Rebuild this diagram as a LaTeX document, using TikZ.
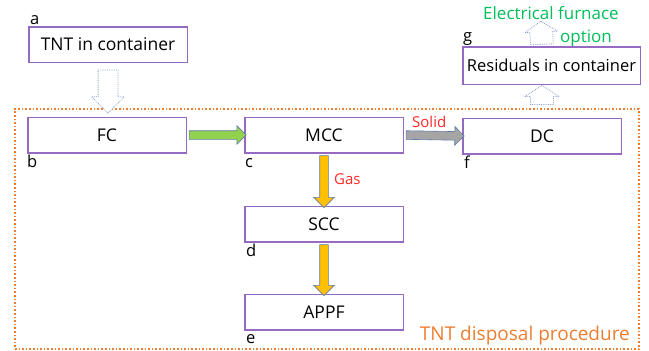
\documentclass[tikz,border=0pt]{standalone}
\usepackage{fontspec}
\setmainfont{Open Sans}
\usetikzlibrary{shapes.arrows, calc, positioning}

\definecolor{boxpurple}{RGB}{150,105,195}
\definecolor{arrowedge}{RGB}{95,125,165}
\definecolor{hollowedge}{RGB}{140,160,205}
\definecolor{gasyellow}{RGB}{255,192,0}
\definecolor{fcgreen}{RGB}{146,208,80}
\definecolor{solidgray}{RGB}{165,165,165}
\definecolor{labred}{RGB}{255,40,40}
\definecolor{optgreen}{RGB}{0,190,90}
\definecolor{procorange}{RGB}{237,125,49}

\tikzstyle{unit} = [rectangle, minimum width=158.5pt, minimum height=35.5pt, text centered, draw=boxpurple, line width=1.5pt, font=\fontsize{17.5}{20}\selectfont]
\tikzstyle{tag} = [font=\fontsize{16.5}{18}\selectfont, anchor=base west, inner sep=0pt]
\tikzstyle{note} = [font=\fontsize{15}{18}\selectfont, text=labred, anchor=base west, inner sep=0pt]
\tikzstyle{flow} = [single arrow, draw=arrowedge, line width=0.6pt, inner xsep=0pt, inner ysep=4pt, single arrow head extend=5pt, sloped, allow upside down]
\tikzstyle{hollow} = [single arrow, draw=hollowedge, densely dotted, line width=0.8pt, fill=white, inner xsep=0pt, sloped, allow upside down]

\begin{document}
\begin{tikzpicture}[x=1pt, y=-1pt]
\useasboundingbox (0,0) rectangle (649,351);

% process frame
\node (frame) [draw=procorange, dotted, line width=1.6pt, minimum width=624pt, minimum height=240pt] at (327,229) {};
\node (proctext) [font=\fontsize{19}{22}\selectfont, text=procorange, anchor=base east, inner sep=0pt] at (630,340) {TNT disposal procedure};

% units
\node (tnt) [unit] at (108,44.5) {TNT in container};
\node (fc) [unit] at (107,135) {FC};
\node (mcc) [unit] at (324,135) {MCC};
\node (dc) [unit] at (542,136) {DC};
\node (scc) [unit] at (324,224) {SCC};
\node (appf) [unit] at (324,312) {APPF};
\node (resid) [unit, minimum width=177.5pt, minimum height=37.5pt, inner xsep=1pt, font=\fontsize{16.5}{20}\selectfont] at (551.5,65.5) {Residuals in container};

% letters
\node (taga) [tag] at ([xshift=2pt, yshift=2pt]tnt.north west) {a};
\node (tagb) [tag] at ([yshift=-14pt]fc.south west) {b};
\node (tagc) [tag] at ([xshift=1pt, yshift=-14pt]mcc.south west) {c};
\node (tagd) [tag] at ([xshift=2pt, yshift=-14pt]scc.south west) {d};
\node (tage) [tag] at ([xshift=2pt, yshift=-13pt]appf.south west) {e};
\node (tagf) [tag] at ([xshift=2pt, yshift=-14pt]dc.south west) {f};
\node (tagg) [tag] at ([xshift=1pt, yshift=5pt]resid.north west) {g};

% flow labels
\node (solid) [note] at (412,127) {Solid};
\node (gas) [note] at (334,184) {Gas};
\node (furnace) [font=\fontsize{17}{20}\selectfont, text=optgreen, anchor=base, inner sep=0pt] at (551,19) {Electrical furnace};
\node (option) [font=\fontsize{17}{20}\selectfont, text=optgreen, anchor=base, inner sep=0pt] at (586,42) {option};

% helper points
\coordinate (tntin) at ($(tnt.south)+(0,2)$);
\coordinate (dcout) at (dc.north |- frame.north);
\coordinate (residin) at ($(dc.north |- resid.south)+(0,4)$);
\coordinate (residout) at ($(dc.north |- resid.north)+(0,2)$);
\coordinate (furnin) at (541,25);

% block arrows
\path let \p1=($(mcc.west)-(fc.east)$), \n1={veclen(\x1,\y1)} in
  (fc.east) -- (mcc.west) node[flow, fill=fcgreen, midway, minimum height=\n1] {};
\path let \p1=($(dc.west)-(mcc.east)$), \n1={veclen(\x1,\y1)} in
  (mcc.east) -- (dc.west) node[flow, fill=solidgray, midway, minimum height=\n1] {};
\path let \p1=($(scc.north)-(mcc.south)$), \n1={veclen(\x1,\y1)} in
  (mcc.south) -- (scc.north) node[flow, fill=gasyellow, single arrow head extend=6pt, midway, minimum height=\n1] {};
\path let \p1=($(appf.north)-(scc.south)$), \n1={veclen(\x1,\y1)} in
  (scc.south) -- (appf.north) node[flow, fill=gasyellow, single arrow head extend=6pt, midway, minimum height=\n1] {};

% hollow arrows
\path let \p1=($(tntin |- frame.north)-(tntin)$), \n1={veclen(\x1,\y1)} in
  (tntin) -- (tntin |- frame.north) node[hollow, inner ysep=9.5pt, single arrow head extend=6.5pt, midway, minimum height=\n1] {};
\path let \p1=($(residin)-(dcout)$), \n1={veclen(\x1,\y1)} in
  (dcout) -- (residin) node[hollow, inner ysep=11pt, single arrow head extend=6pt, single arrow tip angle=114, midway, minimum height=\n1] {};
\path let \p1=($(furnin)-(residout)$), \n1={veclen(\x1,\y1)} in
  (residout) -- (furnin) node[hollow, inner ysep=11pt, single arrow head extend=5pt, single arrow tip angle=114, midway, minimum height=\n1] {};

\end{tikzpicture}
\end{document}
